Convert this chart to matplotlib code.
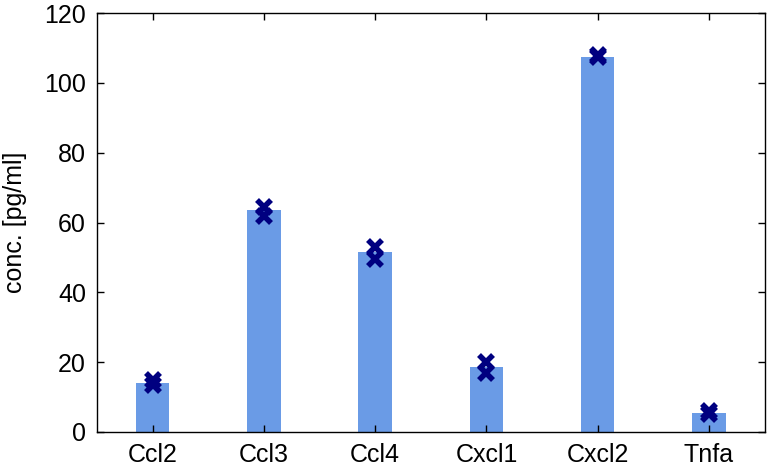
import numpy as np
import matplotlib.pyplot as plt

plt.rcParams['font.family'] = ['Liberation Sans', 'DejaVu Sans']

genes = ["Ccl2", "Ccl3", "Ccl4", "Cxcl1", "Cxcl2", "Tnfa"]
mean_conc = [14.0, 63.5, 51.5, 18.5, 107.5, 5.3]
rep1 = [13.5, 62.0, 49.5, 17.0, 107.5, 5.0]
rep2 = [15.0, 64.5, 53.0, 20.0, 108.0, 6.0]

x = np.arange(1, len(genes) + 1)

fig = plt.figure(figsize=(7.7, 4.7), dpi=100)
ax = fig.add_axes([0.126, 0.081, 0.867, 0.891])

ax.bar(x, mean_conc, width=0.3, color="#6a9be6", zorder=1)
ax.plot(x, rep1, "x", color="#000080", markersize=10, markeredgewidth=4, zorder=2)
ax.plot(x, rep2, "x", color="#000080", markersize=10, markeredgewidth=4, zorder=2)

ax.set_xlim(0.5, 6.5)
ax.set_ylim(0, 120)
ax.set_xticks(x)
ax.set_xticklabels(genes)
ax.set_yticks(range(0, 121, 20))
ax.set_ylabel("conc. [pg/ml]", fontsize=18, labelpad=12)
ax.tick_params(direction="in", top=True, right=True, labelsize=18, length=5, width=1)
ax.tick_params(axis="y", pad=8)
ax.tick_params(axis="x", pad=8)
for s in ax.spines.values():
    s.set_linewidth(1)

fig.savefig("out.png", dpi=100)
